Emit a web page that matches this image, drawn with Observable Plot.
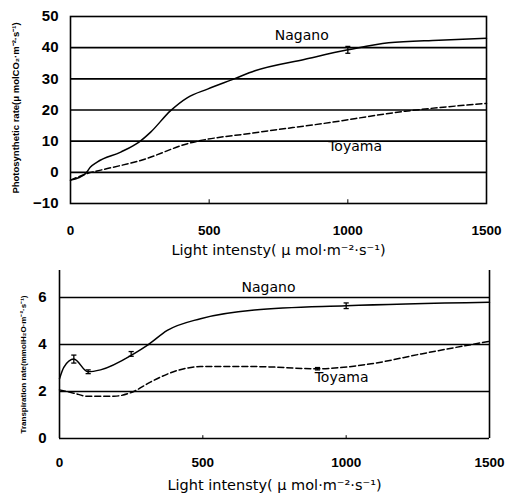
<!DOCTYPE html>
<html>
<head>
<meta charset="utf-8">
<script src="https://cdn.jsdelivr.net/npm/d3@7"></script>
<script src="https://cdn.jsdelivr.net/npm/@observablehq/plot@0.6"></script>
<style>
  body { margin: 0; background: #fff; }
  #chart svg { display: block; }
</style>
</head>
<body>
<div id="chart"></div>
<script>
// ---- Data ----
const xTicks = [0, 500, 1000, 1500];
const xMinorTicks = [500, 1000];
const xTitle = "Light intensty( \u03bc mol\u00b7m\u207b\u00b2\u00b7s\u207b\u00b9)";

// Photosynthetic rate
const photoTicks = [-10, 0, 10, 20, 30, 40, 50];
const photoGrid = [0, 10, 20, 30, 40];
const photoTitle = "Photosynthetic rate(\u03bc molCO\u2082\u00b7m\u207b\u00b2\u00b7s\u207b\u00b9)";
const photoNaganoX = [0, 54, 72, 96, 181, 247, 289, 361, 422, 494, 590, 665, 846, 1000, 1147, 1328, 1500];
const photoNaganoY = [-2.5, -0.4, 1.7, 3.3, 6.5, 9.7, 12.9, 19.8, 24, 26.7, 30, 32.6, 36.3, 39.3, 41.6, 42.4, 43];
const photoToyamaX = [0, 60, 133, 253, 422, 665, 906, 1207, 1500];
const photoToyamaY = [-2.5, -0.4, 1.2, 3.8, 9.2, 12.7, 15.6, 19.6, 22.1];
const photoErrX = [1000];
const photoErrY = [39.3];
const photoErrE = [1.1];

// Transpiration rate
const transTicks = [0, 2, 4, 6];
const transGrid = [0, 2, 4, 6];
const transTitle = "Transpiration rate(mmolH\u2082O\u00b7m\u207b\u00b2\u00b7s\u207b\u00b9)";
const transNaganoX = [0, 15, 50, 99, 143, 259, 306, 376, 492, 680, 1000, 1500];
const transNaganoY = [2.54, 3.03, 3.38, 2.84, 2.92, 3.6, 3.96, 4.6, 5.1, 5.47, 5.65, 5.8];
const transToyamaX = [0, 50, 97, 190, 253, 317, 410, 492, 680, 900, 1087, 1262, 1500];
const transToyamaY = [2.07, 1.93, 1.8, 1.8, 1.97, 2.4, 2.89, 3.06, 3.06, 2.97, 3.18, 3.6, 4.14];
const transErrX = [50, 100, 250, 1000, 900];
const transErrY = [3.38, 2.84, 3.6, 5.65, 2.97];
const transErrE = [0.17, 0.08, 0.1, 0.12, 0.05];

// Series labels
const seriesNames = ["Nagano", "Toyama"];
const photoLabelX = [834, 1026];
const photoLabelY = [43.8, 8.3];
const transLabelX = [729, 984];
const transLabelY = [6.43, 2.6];

const pts = (xs, ys) => xs.map((x, i) => ({x, y: ys[i]}));
const errs = (xs, ys, es) => xs.map((x, i) => ({x, y: ys[i], e: es[i]}));
const labels = (xs, ys) => xs.map((x, i) => ({x, y: ys[i], name: seriesNames[i]}));

const tickFont = "Liberation Sans, Arial, sans-serif";
const titleFont = "DejaVu Sans, sans-serif";
const lw = 1.6;
const curve = "monotone-x";

function errMarks(data) {
  return [
    Plot.link(data, {x1: "x", x2: "x", y1: d => d.y - d.e, y2: d => d.y + d.e, stroke: "black", strokeWidth: 1.3}),
    Plot.link(data, {x1: d => d.x - 9, x2: d => d.x + 9, y1: d => d.y + d.e, y2: d => d.y + d.e, stroke: "black", strokeWidth: 1.3}),
    Plot.link(data, {x1: d => d.x - 9, x2: d => d.x + 9, y1: d => d.y - d.e, y2: d => d.y - d.e, stroke: "black", strokeWidth: 1.3})
  ];
}

const topChart = Plot.plot({
  width: 508, height: 262,
  marginLeft: 70, marginRight: 22, marginTop: 16, marginBottom: 59,
  style: {fontFamily: tickFont, background: "white"},
  x: {type: "linear", domain: [0, 1500], axis: null},
  y: {type: "linear", domain: [-10, 50], axis: null},
  marks: [
    Plot.ruleY(photoGrid, {stroke: "black", strokeWidth: lw}),
    Plot.frame({stroke: "black", strokeWidth: lw}),
    Plot.axisY(photoTicks, {tickSize: 0, tickPadding: 12, fontSize: 15, fontWeight: "bold", label: null}),
    Plot.axisX(xTicks, {tickSize: 0, tickPadding: 22, fontSize: 13.5, fontWeight: "bold", label: null, tickFormat: d => String(d)}),
    Plot.ruleX(xMinorTicks, {y1: -10, y2: -8.8, stroke: "black", strokeWidth: 1}),
    Plot.line(pts(photoNaganoX, photoNaganoY), {x: "x", y: "y", curve, stroke: "black", strokeWidth: 1.5}),
    Plot.line(pts(photoToyamaX, photoToyamaY), {x: "x", y: "y", curve, stroke: "black", strokeWidth: 1.5, strokeDasharray: "6,3"}),
    ...errMarks(errs(photoErrX, photoErrY, photoErrE)),
    Plot.text(labels(photoLabelX, photoLabelY), {x: "x", y: "y", text: "name", fontSize: 14, fontFamily: titleFont, fill: "black"}),
    Plot.text([xTitle], {frameAnchor: "bottom", dy: 51, fontSize: 14.5, fontFamily: titleFont, fill: "black"}),
    Plot.text([photoTitle], {frameAnchor: "left", textAnchor: "middle", dx: -55, dy: -2, rotate: -90, fontSize: 9.5, fontWeight: "bold", fill: "black"})
  ]
});

const bottomChart = Plot.plot({
  width: 508, height: 234,
  marginLeft: 59, marginRight: 19, marginTop: 8, marginBottom: 58,
  style: {fontFamily: tickFont, background: "white"},
  x: {type: "linear", domain: [0, 1500], axis: null},
  y: {type: "linear", domain: [0, 7.15], axis: null},
  marks: [
    Plot.ruleY(transGrid, {stroke: "black", strokeWidth: lw}),
    Plot.ruleX([0, 1500], {stroke: "black", strokeWidth: lw}),
    Plot.axisY(transTicks, {tickSize: 0, tickPadding: 13, fontSize: 15, fontWeight: "bold", label: null}),
    Plot.axisX(xTicks, {tickSize: 0, tickPadding: 19, fontSize: 13.5, fontWeight: "bold", label: null, tickFormat: d => String(d)}),
    Plot.ruleX(xMinorTicks, {y1: 0, y2: 0.12, stroke: "black", strokeWidth: 1}),
    Plot.line(pts(transNaganoX, transNaganoY), {x: "x", y: "y", curve, stroke: "black", strokeWidth: 1.5}),
    Plot.line(pts(transToyamaX, transToyamaY), {x: "x", y: "y", curve, stroke: "black", strokeWidth: 1.5, strokeDasharray: "6,3"}),
    ...errMarks(errs(transErrX, transErrY, transErrE)),
    Plot.text(labels(transLabelX, transLabelY), {x: "x", y: "y", text: "name", fontSize: 14, fontFamily: titleFont, fill: "black"}),
    Plot.text([xTitle], {frameAnchor: "bottom", dy: 51, fontSize: 14.5, fontFamily: titleFont, fill: "black"}),
    Plot.text([transTitle], {frameAnchor: "left", textAnchor: "middle", dx: -36, dy: 10, rotate: -90, fontSize: 8, fontWeight: "bold", fill: "black"})
  ]
});

const chart = document.getElementById("chart");
chart.appendChild(topChart);
chart.appendChild(bottomChart);
</script>
</body>
</html>
